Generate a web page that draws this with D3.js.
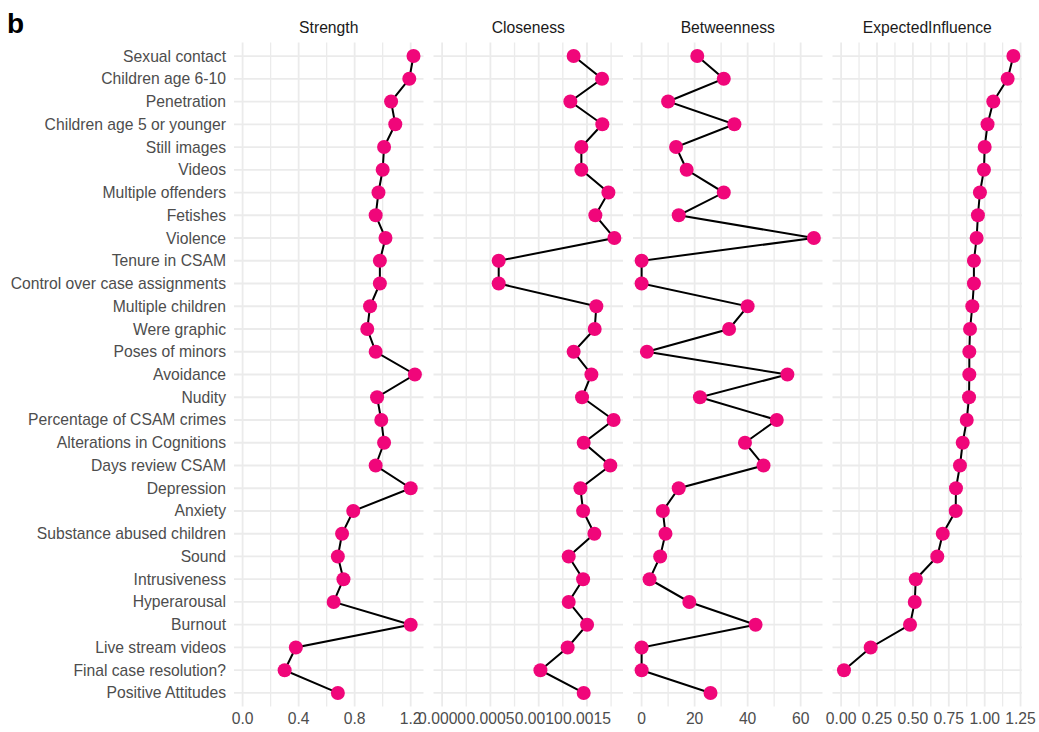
<html>
<head>
<title>Centrality</title>
<script src="https://d3js.org/d3.v7.min.js"></script>
<style>
  body { margin: 0; background: #fff; }
  svg { font-family: "Liberation Sans", Arial, sans-serif; }
  .grid-major { stroke: #ebebeb; stroke-width: 1.8; }
  .grid-minor { stroke: #ebebeb; stroke-width: 1.3; }
  .ylab, .xlab { fill: #4d4d4d; font-size: 15.7px; }
  .strip { fill: #1a1a1a; font-size: 15.7px; }
</style>
</head>
<body>
<svg width="1039" height="732"></svg>
<script>
var nodes = ["Sexual contact", "Children age 6-10", "Penetration", "Children age 5 or younger",
  "Still images", "Videos", "Multiple offenders", "Fetishes", "Violence", "Tenure in CSAM",
  "Control over case assignments", "Multiple children", "Were graphic", "Poses of minors",
  "Avoidance", "Nudity", "Percentage of CSAM crimes", "Alterations in Cognitions",
  "Days review CSAM", "Depression", "Anxiety", "Substance abused children", "Sound",
  "Intrusiveness", "Hyperarousal", "Burnout", "Live stream videos", "Final case resolution?",
  "Positive Attitudes"];

var strength = [1.22, 1.19, 1.06, 1.09, 1.01, 1.00, 0.97, 0.95, 1.02, 0.98, 0.98, 0.91, 0.89, 0.95,
  1.23, 0.96, 0.99, 1.01, 0.95, 1.20, 0.79, 0.71, 0.68, 0.72, 0.65, 1.20, 0.38, 0.30, 0.68];

var closeness = [0.001362, 0.001656, 0.001328, 0.001659, 0.001442, 0.001442, 0.001722, 0.001587,
  0.001784, 0.000586, 0.000586, 0.001597, 0.001580, 0.001362, 0.001546, 0.001449, 0.001776,
  0.001466, 0.001742, 0.001432, 0.001460, 0.001577, 0.001311, 0.001460, 0.001311, 0.001501,
  0.001300, 0.001018, 0.001466];

var betweenness = [21, 31, 10, 35, 13, 17, 31, 14, 65, 0, 0, 40, 33, 2, 55, 22, 51, 39, 46, 14,
  8, 9, 7, 3, 18, 43, 0, 0, 26];

var expectedInfluence = [1.20, 1.16, 1.06, 1.02, 1.00, 0.995, 0.967, 0.953, 0.944, 0.925, 0.925,
  0.914, 0.898, 0.893, 0.893, 0.891, 0.875, 0.847, 0.828, 0.80, 0.798, 0.708, 0.67, 0.52, 0.513,
  0.48, 0.206, 0.02, null];

var panelNames = ["Strength", "Closeness", "Betweenness", "ExpectedInfluence"];
var panelValues = [strength, closeness, betweenness, expectedInfluence];
var majorTicks = [[0, 0.4, 0.8, 1.2], [0, 0.0005, 0.001, 0.0015], [0, 20, 40, 60],
  [0, 0.25, 0.5, 0.75, 1.0, 1.25]];
var minorTicks = [[0.2, 0.6, 1.0], [0.00025, 0.00075, 0.00125, 0.00175], [10, 30, 50],
  [0.125, 0.375, 0.625, 0.875, 1.125]];
var tickFormats = [".1f", ".4f", "d", ".2f"];

var svg = d3.select("svg");
var yTop = 42.4, yBottom = 706.6;
var left0 = 234, panelW = 189.5, gap = 10;

svg.append("text").attr("x", 7).attr("y", 33)
  .style("font-size", "28px").style("font-weight", "bold").attr("fill", "#000").text("b");

var y = d3.scalePoint().domain(nodes).range([yTop, yBottom]).padding(0.6);

svg.selectAll(".ylab").data(nodes).enter().append("text")
  .attr("class", "ylab")
  .attr("x", left0 - 8)
  .attr("y", function(d) { return y(d); })
  .attr("dy", "0.35em")
  .attr("text-anchor", "end")
  .text(function(d) { return d; });

panelNames.forEach(function(name, i) {
  var vals = panelValues[i];
  var lo = Math.min(0, d3.min(vals)), hi = d3.max(vals);
  var pad = (hi - lo) * 0.05;
  var px = left0 + i * (panelW + gap);
  var x = d3.scaleLinear().domain([lo - pad, hi + pad]).range([px, px + panelW]);

  var g = svg.append("g");

  g.selectAll(".minor").data(minorTicks[i]).enter().append("line")
    .attr("class", "grid-minor")
    .attr("x1", function(d) { return x(d); }).attr("x2", function(d) { return x(d); })
    .attr("y1", yTop).attr("y2", yBottom);

  g.selectAll(".major").data(majorTicks[i]).enter().append("line")
    .attr("class", "grid-major")
    .attr("x1", function(d) { return x(d); }).attr("x2", function(d) { return x(d); })
    .attr("y1", yTop).attr("y2", yBottom);

  g.selectAll(".hgrid").data(nodes).enter().append("line")
    .attr("class", "grid-major")
    .attr("x1", px).attr("x2", px + panelW)
    .attr("y1", function(d) { return y(d); }).attr("y2", function(d) { return y(d); });

  g.append("text").attr("class", "strip")
    .attr("x", px + panelW / 2).attr("y", 33)
    .attr("text-anchor", "middle").text(name);

  var fmt = d3.format(tickFormats[i]);
  g.selectAll(".xlab").data(majorTicks[i]).enter().append("text")
    .attr("class", "xlab")
    .attr("x", function(d) { return x(d); })
    .attr("y", 724)
    .attr("text-anchor", "middle")
    .text(function(d) { return fmt(d); });

  var line = d3.line()
    .defined(function(d) { return d != null; })
    .x(function(d) { return x(d); })
    .y(function(d, j) { return y(nodes[j]); });

  g.append("path").datum(vals)
    .attr("d", line)
    .attr("fill", "none")
    .attr("stroke", "#000")
    .attr("stroke-width", 2);

  g.selectAll(".pt").data(vals.map(function(v, j) { return {v: v, n: nodes[j]}; })
      .filter(function(d) { return d.v != null; }))
    .enter().append("circle")
    .attr("cx", function(d) { return x(d.v); })
    .attr("cy", function(d) { return y(d.n); })
    .attr("r", 7)
    .attr("fill", "#F0067A");
});
</script>
</body>
</html>
